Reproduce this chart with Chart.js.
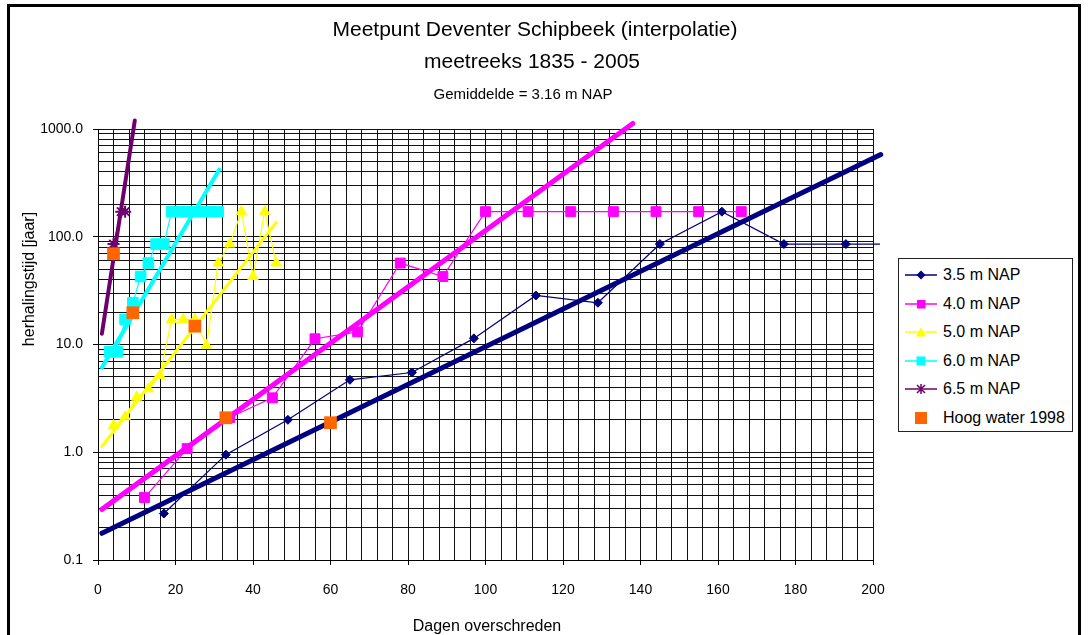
<!DOCTYPE html>
<html>
<head>
<meta charset="utf-8">
<script src="https://cdn.jsdelivr.net/npm/chart.js@4.4.1/dist/chart.umd.min.js"></script>
<style>
  html, body { margin: 0; padding: 0; background: #fff; }
  #wrap { position: relative; width: 1088px; height: 635px; overflow: hidden; }
  #frame { position: absolute; left: 7px; top: 4px; width: 1074px; height: 700px; border: 3px solid #000; box-sizing: border-box; }
  #chart { position: absolute; left: 0; top: 0; }
  #legend { position: absolute; left: 898px; top: 258px; width: 175px; height: 174px; box-sizing: border-box;
            border: 1px solid #222; background: #fff; font: 16px "Liberation Sans", Arial, sans-serif; color: #000; }
  .row { position: absolute; left: 0; width: 100%; height: 28px; }
  .row svg { position: absolute; left: 6px; top: 6px; }
  .row span { position: absolute; left: 44px; top: 0; line-height: 28px; white-space: nowrap; }
</style>
</head>
<body>
<div id="wrap">
  <div id="frame"></div>
  <canvas id="chart" width="1088" height="635"></canvas>
  <div id="legend"></div>
</div>
<script>
// titles
const titleLines = ['Meetpunt Deventer Schipbeek (interpolatie)', 'meetreeks 1835 - 2005'];
const subTitle = 'Gemiddelde = 3.16 m NAP';
const xTitle = 'Dagen overschreden';
const yTitle = 'herhalingstijd [jaar]';

// series names
const seriesNames = ['3.5 m NAP', '4.0 m NAP', '5.0 m NAP', '6.0 m NAP', '6.5 m NAP', 'Hoog water 1998'];

// measured points (days exceeded, return period in years)
const x35 = [17, 33, 49, 65, 81, 97, 113, 129, 145, 161, 177, 193, 209];
const y35 = [0.27, 0.95, 2.0, 4.7, 5.5, 11.4, 28.5, 24.4, 85.5, 171, 85.5, 85.5, 85.5];

const x40 = [12, 23, 34, 45, 56, 67, 78, 89, 100, 111, 122, 133, 144, 155, 166];
const y40 = [0.38, 1.08, 2.1, 3.2, 11.3, 13.1, 57, 42.75, 171, 171, 171, 171, 171, 171, 171];

const x50 = [4, 7, 10, 13, 16, 19, 22, 25, 28, 31, 34, 37, 40, 43, 46];
const y50 = [1.77, 2.13, 3.24, 3.88, 5.15, 17.1, 17.1, 17.1, 9.8, 57, 85.5, 171, 42.75, 171, 57];

const x60 = [3, 5, 7, 9, 11, 13, 15, 17, 19, 21, 23, 25, 27, 29, 31];
const y60 = [8.55, 8.55, 17.1, 24.4, 42.75, 57, 85.5, 85.5, 171, 171, 171, 171, 171, 171, 171];

const x65 = [4, 6, 7];
const y65 = [85.5, 171, 171];

const xHW = [4, 9, 25, 33, 60];
const yHW = [69.5, 19.7, 14.8, 2.09, 1.88];

// interpolation lines (start and end points)
const fit35x = [1, 202];   const fit35y = [0.177, 580];
const fit40x = [1, 138];   const fit40y = [0.295, 1125];
const fit50x = [1, 46];    const fit50y = [1.13, 136];
const fit60x = [1, 31.3];  const fit60y = [6.1, 421];
const fit65x = [1, 9.5];   const fit65y = [12.6, 1200];

// axes
const xTickValues = [];
for (let v = 0; v <= 200; v += 4) xTickValues.push(v);
const yDecades = [0.1, 1, 10, 100];
const yTickValues = [];
yDecades.forEach(d => { for (let m = 1; m <= 9; m++) yTickValues.push(d * m); });
yTickValues.push(1000);

const colors = ['#000080', '#FF00FF', '#FFFF00', '#00FFFF', '#6E006E', '#FF6600'];

const pts = (xs, ys) => xs.map((x, i) => ({ x: x, y: ys[i] }));
const isDecade = v => Math.abs(Math.log10(v) - Math.round(Math.log10(v))) < 1e-6;
const FONT = '"Liberation Sans", Arial, sans-serif';

function series(i, xs, ys, style, radius, extra) {
    return Object.assign({
        label: seriesNames[i],
        data: pts(xs, ys),
        showLine: true,
        borderColor: colors[i],
        backgroundColor: colors[i],
        borderWidth: 1.2,
        pointStyle: style,
        pointRadius: radius,
        pointBorderWidth: 1,
        pointBackgroundColor: colors[i],
        pointBorderColor: colors[i],
        order: 2
    }, extra || {});
}

function fitLine(i, xs, ys, width) {
    return {
        label: seriesNames[i] + ' fit',
        data: pts(xs, ys),
        showLine: true,
        borderColor: colors[i],
        borderWidth: width,
        pointRadius: 0,
        borderCapStyle: 'round',
        clip: false,
        order: 1
    };
}

const datasets = [
    series(5, xHW, yHW, 'rect', 9, { showLine: false, order: 0, pointBorderWidth: 0 }),
    fitLine(0, fit35x, fit35y, 5),
    fitLine(1, fit40x, fit40y, 5),
    fitLine(2, fit50x, fit50y, 3),
    fitLine(3, fit60x, fit60y, 4),
    fitLine(4, fit65x, fit65y, 4),
    series(0, x35, y35, 'rectRot', 4.5, { clip: { left: false, top: false, right: 7, bottom: false } }),
    series(1, x40, y40, 'rect', 7),
    series(2, x50, y50, 'triangle', 6),
    series(3, x60, y60, 'rect', 7.5),
    series(4, x65, y65, 'star', 6, { pointBorderWidth: 2 })
];

// titles drawn on the canvas
const textPlugin = {
    id: 'texts',
    afterDraw(chart) {
        const ctx = chart.ctx;
        ctx.save();
        ctx.fillStyle = '#000';
        ctx.textAlign = 'center';
        ctx.textBaseline = 'middle';
        ctx.font = '21px ' + FONT;
        ctx.fillText(titleLines[0], 535, 30);
        ctx.fillText(titleLines[1], 532, 62);
        ctx.font = '15px ' + FONT;
        ctx.fillText(subTitle, 523, 95);
        ctx.font = '16px ' + FONT;
        ctx.fillText(xTitle, 487, 627);
        ctx.translate(30, 279);
        ctx.rotate(-Math.PI / 2);
        ctx.fillText(yTitle, 0, 0);
        ctx.restore();
    }
};

new Chart(document.getElementById('chart'), {
    type: 'scatter',
    data: { datasets: datasets },
    options: {
        responsive: false,
        animation: false,
        events: [],
        layout: { padding: { top: 129, right: 215, bottom: 0, left: 0 } },
        plugins: { legend: { display: false }, tooltip: { enabled: false } },
        scales: {
            x: {
                type: 'linear',
                min: 0,
                max: 200,
                afterBuildTicks: s => { s.ticks = xTickValues.map(v => ({ value: v })); },
                afterFit: s => { s.height = 75; },
                ticks: {
                    autoSkip: false,
                    maxRotation: 0,
                    padding: 17,
                    color: '#000',
                    font: { family: FONT, size: 14 },
                    callback: v => (v % 20 === 0 ? String(v) : '')
                },
                grid: {
                    color: '#111',
                    lineWidth: 1,
                    tickLength: 5,
                    tickColor: c => (c.tick && c.tick.value % 20 === 0 ? '#000' : 'rgba(0,0,0,0)')
                },
                border: { color: '#000', width: 1 }
            },
            y: {
                type: 'logarithmic',
                min: 0.1,
                max: 1000,
                afterBuildTicks: s => { s.ticks = yTickValues.map(v => ({ value: v })); },
                afterFit: s => { s.width = 98; },
                ticks: {
                    autoSkip: false,
                    padding: 10,
                    color: '#000',
                    font: { family: FONT, size: 14 },
                    callback: v => (isDecade(v) ? v.toFixed(1) : '')
                },
                grid: {
                    color: '#111',
                    lineWidth: 1,
                    tickLength: 5,
                    tickColor: c => (c.tick && isDecade(c.tick.value) ? '#000' : 'rgba(0,0,0,0)')
                },
                border: { color: '#000', width: 1 }
            }
        }
    },
    plugins: [textPlugin]
});

// legend
const markers = [
    c => `<line x1="0" y1="8" x2="32" y2="8" stroke="${c}" stroke-width="1.5"/><polygon points="16,3.5 20.5,8 16,12.5 11.5,8" fill="${c}"/>`,
    c => `<line x1="0" y1="8" x2="32" y2="8" stroke="${c}" stroke-width="1.5"/><rect x="12" y="4" width="8.5" height="8.5" fill="${c}"/>`,
    c => `<line x1="0" y1="8" x2="32" y2="8" stroke="${c}" stroke-width="1.5"/><polygon points="16,3 21,12.5 11,12.5" fill="${c}"/>`,
    c => `<line x1="0" y1="8" x2="32" y2="8" stroke="${c}" stroke-width="1.5"/><rect x="11.5" y="3.5" width="9" height="9" fill="${c}"/>`,
    c => `<line x1="0" y1="8" x2="32" y2="8" stroke="${c}" stroke-width="1.5"/><path d="M12 4 L20 12 M20 4 L12 12 M16 3 L16 13" stroke="${c}" stroke-width="1.5"/>`,
    c => `<rect x="10" y="2" width="12" height="12" fill="${c}"/>`
];
const legend = document.getElementById('legend');
seriesNames.forEach((name, i) => {
    const row = document.createElement('div');
    row.className = 'row';
    row.style.top = (2 + i * 28.5) + 'px';
    row.innerHTML = `<svg width="32" height="16" viewBox="0 0 32 16">${markers[i](colors[i])}</svg><span>${name}</span>`;
    legend.appendChild(row);
});
</script>
</body>
</html>
